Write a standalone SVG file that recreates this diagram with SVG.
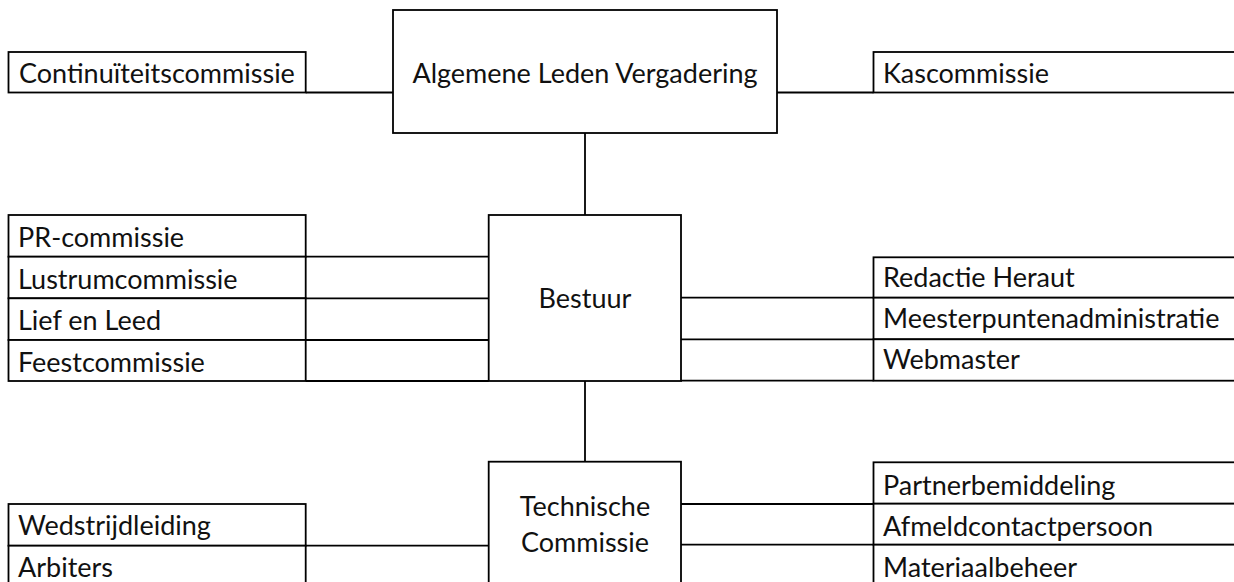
<svg xmlns="http://www.w3.org/2000/svg" width="1234" height="582" viewBox="0 0 1234 582">
<style>
rect{fill:#fff;stroke:#000;stroke-width:1.8}
line{stroke:#000;stroke-width:1.8}
text{font-family:Lato,"Open Sans","Liberation Sans",sans-serif;font-size:27px;fill:#111}
.c{text-anchor:middle}
</style>
<rect width="1234" height="582" fill="#fff" style="stroke:none"/>
<g id="connectors">
<line x1="305.7" y1="92.5" x2="393" y2="92.5"/>
<line x1="777" y1="92.5" x2="873.5" y2="92.5"/>
<line x1="585" y1="133" x2="585" y2="215"/>
<line x1="305.7" y1="256.7" x2="488.7" y2="256.7"/>
<line x1="305.7" y1="298.3" x2="488.7" y2="298.3"/>
<line x1="305.7" y1="340" x2="488.7" y2="340"/>
<line x1="305.7" y1="381" x2="488.7" y2="381"/>
<line x1="681" y1="297.7" x2="873.5" y2="297.7"/>
<line x1="681" y1="339.3" x2="873.5" y2="339.3"/>
<line x1="681" y1="380.7" x2="873.5" y2="380.7"/>
<line x1="585" y1="381" x2="585" y2="461.7"/>
<line x1="305.7" y1="545.7" x2="488.7" y2="545.7"/>
<line x1="681" y1="504" x2="873.5" y2="504"/>
<line x1="681" y1="544.7" x2="873.5" y2="544.7"/>
</g>
<g id="alv"><rect x="393" y="10" width="384" height="123"/><text class="c" x="585" y="83.3">Algemene Leden Vergadering</text></g>
<g id="bestuur"><rect x="488.7" y="215" width="192.3" height="166"/><text class="c" x="585" y="307.7">Bestuur</text></g>
<g id="tc"><rect x="488.7" y="461.7" width="192.3" height="130"/><text class="c" x="585" y="516">Technische</text><text class="c" x="585" y="551.7">Commissie</text></g>
<g id="continuiteit"><rect x="8.5" y="52" width="297.2" height="40.5"/><text x="19" y="83.3">Continuïteitscommissie</text></g>
<g id="kas"><rect x="873.5" y="52" width="380" height="40.5"/><text x="883" y="83.3">Kascommissie</text></g>
<g id="pr"><rect x="8.5" y="215" width="297.2" height="41.7"/><text x="18" y="247.3">PR-commissie</text></g>
<g id="lustrum"><rect x="8.5" y="256.7" width="297.2" height="41.6"/><text x="18" y="289.3">Lustrumcommissie</text></g>
<g id="lief"><rect x="8.5" y="298.3" width="297.2" height="41.7"/><text x="18" y="330">Lief en Leed</text></g>
<g id="feest"><rect x="8.5" y="340" width="297.2" height="41"/><text x="18" y="371.7">Feestcommissie</text></g>
<g id="redactie"><rect x="873.5" y="257.3" width="380" height="40.4"/><text x="883" y="286.7">Redactie Heraut</text></g>
<g id="meester"><rect x="873.5" y="297.7" width="380" height="41.6"/><text x="883" y="328.3">Meesterpuntenadministratie</text></g>
<g id="webmaster"><rect x="873.5" y="339.3" width="380" height="41.4"/><text x="883" y="369.3">Webmaster</text></g>
<g id="wedstrijd"><rect x="8.5" y="504" width="297.2" height="41.7"/><text x="18" y="535">Wedstrijdleiding</text></g>
<g id="arbiters"><rect x="8.5" y="545.7" width="297.2" height="50"/><text x="18" y="576.7">Arbiters</text></g>
<g id="partner"><rect x="873.5" y="462.3" width="380" height="41.4"/><text x="883" y="495">Partnerbemiddeling</text></g>
<g id="afmeld"><rect x="873.5" y="503.7" width="380" height="41"/><text x="883" y="536">Afmeldcontactpersoon</text></g>
<g id="materiaal"><rect x="873.5" y="544.7" width="380" height="50"/><text x="883" y="576.7">Materiaalbeheer</text></g>
</svg>
